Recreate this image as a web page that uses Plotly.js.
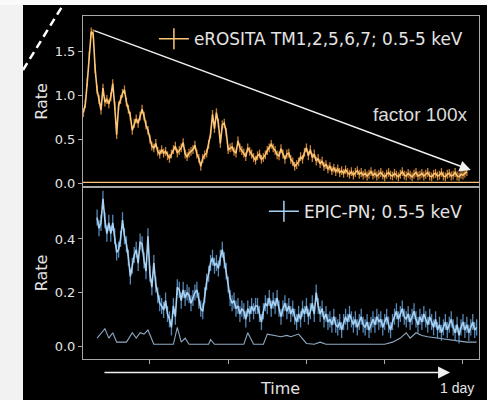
<!DOCTYPE html>
<html>
<head>
<meta charset="utf-8">
<script src="https://cdn.plot.ly/plotly-3.0.1.min.js"></script>
<style>
  html, body { margin: 0; padding: 0; background: #000; }
  #wrap { position: relative; width: 487px; height: 400px; overflow: hidden; }
  #chart { position: absolute; left: 0; top: 0; width: 487px; height: 400px; }
  #leftstrip { position: absolute; left: 0; top: 0; width: 23px; height: 400px; background: #f2f2f2; }
  #topstrip { position: absolute; left: 0; top: 0; width: 487px; height: 5px; background: #fafafa; }
</style>
</head>
<body>
<div id="wrap">
  <div id="chart"></div>
  <div id="leftstrip"></div>
  <div id="topstrip"></div>
</div>
<script>
// Time in ks (ticks every 20 ks)
const time_erosita = [3,3.5,4,4.5,5,5.5,6,6.5,7,7.5,
  8,8.5,9,9.5,10,10.5,11,11.5,12,12.5,
  13,13.5,14,14.5,15,15.5,16,16.5,17,17.5,
  18,18.5,19,19.5,20,20.5,21,21.5,22,22.5,
  23,23.5,24,24.5,25,25.5,26,26.5,27,27.5,
  28,28.5,29,29.5,30,30.5,31,31.5,32,32.5,
  33,33.5,34,34.5,35,35.5,36,36.5,37,37.5,
  38,38.5,39,39.5,40,40.5,41,41.5,42,42.5,
  43,43.5,44,44.5,45,45.5,46,46.5,47,47.5,
  48,48.5,49,49.5,50,50.5,51,51.5,52,52.5,
  53,53.5,54,54.5,55,55.5,56,56.5,57,57.5,
  58,58.5,59,59.5,60,60.5,61,61.5,62,62.5,
  63,63.5,64,64.5,65,65.5,66,66.5,67,67.5,
  68,68.5,69,69.5,70,70.5,71,71.5,72,72.5,
  73,73.5,74,74.5,75,75.5,76,76.5,77,77.5,
  78,78.5,79,79.5,80,80.5,81,81.5,82,82.5,
  83,83.5,84,84.5,85,85.5,86,86.5,87,87.5,
  88,88.5,89,89.5,90,90.5,91,91.5,92,92.5,
  93,93.5,94,94.5,95,95.5,96,96.5,97,97.5,
  98,98.5,99,99.5,100,100.5,101];
const rate_erosita = [0.80,0.90,1.15,1.45,1.72,1.70,1.30,1.06,0.95,0.83,
  1.08,0.92,0.95,0.90,0.98,1.13,0.88,0.55,0.88,0.95,
  1.02,1.06,0.92,0.84,0.76,0.60,0.68,0.73,0.68,0.76,
  0.84,0.76,0.66,0.60,0.50,0.42,0.40,0.45,0.36,0.33,
  0.38,0.34,0.36,0.31,0.28,0.33,0.38,0.42,0.34,0.37,
  0.40,0.46,0.33,0.30,0.34,0.36,0.38,0.43,0.33,0.28,
  0.19,0.28,0.32,0.34,0.44,0.56,0.78,0.62,0.80,0.68,
  0.45,0.66,0.68,0.58,0.38,0.40,0.41,0.36,0.34,0.48,
  0.40,0.37,0.34,0.30,0.40,0.36,0.33,0.29,0.26,0.31,
  0.33,0.27,0.29,0.32,0.37,0.40,0.44,0.40,0.37,0.32,
  0.31,0.39,0.33,0.27,0.33,0.34,0.27,0.24,0.19,0.21,
  0.24,0.30,0.27,0.35,0.40,0.31,0.38,0.29,0.33,0.25,
  0.28,0.22,0.25,0.19,0.21,0.16,0.19,0.14,0.17,0.13,
  0.16,0.12,0.14,0.11,0.15,0.12,0.10,0.13,0.09,0.12,
  0.14,0.10,0.12,0.09,0.11,0.08,0.10,0.13,0.09,0.11,
  0.08,0.10,0.12,0.09,0.07,0.10,0.12,0.09,0.08,0.11,
  0.09,0.07,0.10,0.13,0.09,0.08,0.11,0.09,0.07,0.10,
  0.12,0.08,0.09,0.11,0.08,0.10,0.12,0.08,0.07,0.10,
  0.11,0.08,0.09,0.12,0.08,0.07,0.10,0.11,0.08,0.09,
  0.12,0.08,0.07,0.10,0.09,0.11,0.13];
const time_erosita_bkg = [2.9, 104.1];
const rate_erosita_bkg = [0.008, 0.008];

const time_epic = [6.5,7,7.5,8,8.5,9,9.5,10,10.5,11,
  11.5,12,12.5,13,13.5,14,14.5,15,15.5,16,
  16.5,17,17.5,18,18.5,19,19.5,20,20.5,21,
  21.5,22,22.5,23,23.5,24,24.5,25,25.5,26,
  26.5,27,27.5,28,28.5,29,29.5,30,30.5,31,
  31.5,32,32.5,33,33.5,34,34.5,35,35.5,36,
  36.5,37,37.5,38,38.5,39,39.5,40,40.5,41,
  41.5,42,42.5,43,43.5,44,44.5,45,45.5,46,
  46.5,47,47.5,48,48.5,49,49.5,50,50.5,51,
  51.5,52,52.5,53,53.5,54,54.5,55,55.5,56,
  56.5,57,57.5,58,58.5,59,59.5,60,60.5,61,
  61.5,62,62.5,63,63.5,64,64.5,65,65.5,66,
  66.5,67,67.5,68,68.5,69,69.5,70,70.5,71,
  71.5,72,72.5,73,73.5,74,74.5,75,75.5,76,
  76.5,77,77.5,78,78.5,79,79.5,80,80.5,81,
  81.5,82,82.5,83,83.5,84,84.5,85,85.5,86,
  86.5,87,87.5,88,88.5,89,89.5,90,90.5,91,
  91.5,92,92.5,93,93.5,94,94.5,95,95.5,96,
  96.5,97,97.5,98,98.5,99,99.5,100,100.5,101,
  101.5,102,102.5,103,103.5];
const rate_epic = [0.48,0.44,0.46,0.55,0.47,0.42,0.46,0.42,0.46,0.41,
  0.35,0.36,0.40,0.47,0.41,0.38,0.33,0.26,0.30,0.34,
  0.36,0.31,0.39,0.38,0.32,0.28,0.41,0.27,0.22,0.31,
  0.23,0.19,0.16,0.15,0.135,0.17,0.12,0.10,0.07,0.15,
  0.11,0.22,0.21,0.17,0.21,0.18,0.20,0.19,0.16,0.18,
  0.20,0.21,0.17,0.14,0.13,0.19,0.24,0.27,0.31,0.33,
  0.30,0.31,0.29,0.33,0.36,0.32,0.28,0.23,0.18,0.16,
  0.17,0.14,0.15,0.12,0.14,0.13,0.10,0.14,0.12,0.15,
  0.13,0.15,0.15,0.12,0.09,0.13,0.16,0.15,0.18,0.14,
  0.17,0.15,0.18,0.14,0.11,0.14,0.16,0.13,0.15,0.12,
  0.14,0.11,0.09,0.12,0.10,0.14,0.12,0.15,0.11,0.13,
  0.16,0.12,0.20,0.15,0.12,0.14,0.10,0.12,0.09,0.10,
  0.08,0.11,0.08,0.07,0.09,0.06,0.09,0.11,0.09,0.12,
  0.10,0.08,0.10,0.07,0.09,0.11,0.08,0.07,0.09,0.06,
  0.08,0.10,0.08,0.11,0.09,0.10,0.07,0.09,0.11,0.08,
  0.06,0.09,0.11,0.13,0.10,0.12,0.14,0.11,0.10,0.12,
  0.09,0.11,0.13,0.10,0.08,0.11,0.09,0.12,0.10,0.08,
  0.11,0.09,0.07,0.10,0.06,0.08,0.05,0.07,0.09,0.06,
  0.08,0.10,0.07,0.05,0.08,0.04,0.07,0.09,0.06,0.08,
  0.05,0.07,0.09,0.06,0.07];

const time_epic_bkg = [6.5,8.5,9.5,10.5,11.5,14,15.5,16.5,17.5,18.5,19.5,21,26,27,28,29,30,35,35.5,36.5,
  44,45,46.5,49,50,52,53.5,55,56,58,60,62,63.5,65,80,82,84,85.5,86.5,88,89.5,91,93.5,96,98.5,101,103.5];
const rate_epic_bkg = [0.03,0.065,0.03,0.05,0.015,0.015,0.05,0.03,0.05,0.045,0.06,0.007,0.007,0.07,0.015,0.03,0.007,0.007,0.025,0.007,
  0.007,0.05,0.007,0.007,0.045,0.04,0.035,0.04,0.035,0.045,0.01,0.007,0.015,0.007,0.007,0.015,0.03,0.05,0.03,0.05,0.04,0.035,0.03,0.025,0.02,0.015,0.015];

const yticks_top = [0, 0.5, 1.0, 1.5];
const yticklabels_top = ['0.0', '0.5', '1.0', '1.5'];
const yticks_bot = [0, 0.2, 0.4];
const yticklabels_bot = ['0.0', '0.2', '0.4'];
const xticks = [20, 40, 60, 80, 100];

const label_erosita = 'eROSITA TM1,2,5,6,7; 0.5-5 keV';
const label_epic = 'EPIC-PN; 0.5-5 keV';

const ORANGE = '#fcc676';
const ORANGE_ERR = 'rgba(235,150,60,0.85)';
const BLUE = '#a8d2f3';
const BLUE_ERR = 'rgba(100,160,215,0.85)';
const SPINE = '#a9a9a9';
const TXT = '#e4e4e4';
const FONT = 'DejaVu Sans, sans-serif';

const traces = [
  { x: time_erosita_bkg, y: rate_erosita_bkg, xaxis: 'x', yaxis: 'y', mode: 'lines',
    line: { color: ORANGE, width: 1.3 }, showlegend: false, hoverinfo: 'skip' },
  { x: time_erosita, y: rate_erosita, xaxis: 'x', yaxis: 'y', mode: 'lines',
    line: { color: ORANGE, width: 1.6 },
    error_y: { type: 'constant', value: 0.05, color: ORANGE_ERR, thickness: 1.3, width: 0 },
    showlegend: false },
  { x: [null], y: [null], xaxis: 'x', yaxis: 'y', mode: 'lines+markers', name: label_erosita,
    line: { color: ORANGE, width: 1.5 },
    marker: { symbol: 'line-ns-open', size: 15, line: { color: ORANGE, width: 1.5 } },
    legend: 'legend' },
  { x: time_epic_bkg, y: rate_epic_bkg, xaxis: 'x2', yaxis: 'y2', mode: 'lines',
    line: { color: '#8fa9c2', width: 1.1 }, showlegend: false },
  { x: time_epic, y: rate_epic, xaxis: 'x2', yaxis: 'y2', mode: 'lines',
    line: { color: BLUE, width: 1.6 },
    error_y: { type: 'constant', value: 0.03, color: BLUE_ERR, thickness: 1.3, width: 0 },
    showlegend: false },
  { x: [null], y: [null], xaxis: 'x2', yaxis: 'y2', mode: 'lines+markers', name: label_epic,
    line: { color: BLUE, width: 1.5 },
    marker: { symbol: 'line-ns-open', size: 15, line: { color: BLUE, width: 1.5 } },
    legend: 'legend2' }
];

const axisCommon = {
  showline: true, mirror: true, linecolor: SPINE, linewidth: 1,
  showgrid: false, zeroline: false, tickcolor: SPINE, ticklen: 4, tickwidth: 1,
  tickfont: { family: FONT, size: 13, color: TXT }
};
const DOM = 0.5015;

const layout = {
  width: 487, height: 400,
  paper_bgcolor: '#000', plot_bgcolor: '#000',
  margin: { l: 83, r: 8, t: 16, b: 41 },
  font: { family: FONT, color: TXT },
  xaxis: Object.assign({}, axisCommon, { domain: [0, 1], anchor: 'y', range: [2.9, 104.1],
    tickvals: xticks, ticks: '', showticklabels: false }),
  yaxis: Object.assign({}, axisCommon, { domain: [DOM, 1], anchor: 'x', range: [-0.045, 1.9],
    tickvals: yticks_top, ticktext: yticklabels_top, ticks: 'outside',
    title: { text: 'Rate', font: { family: FONT, size: 16, color: TXT }, standoff: 3 } }),
  xaxis2: Object.assign({}, axisCommon, { domain: [0, 1], anchor: 'y2', range: [2.9, 104.1], matches: 'x',
    tickvals: xticks, ticks: 'outside', showticklabels: false }),
  yaxis2: Object.assign({}, axisCommon, { domain: [0, DOM], anchor: 'x2', range: [-0.048, 0.594],
    tickvals: yticks_bot, ticktext: yticklabels_bot, ticks: 'outside',
    title: { text: 'Rate', font: { family: FONT, size: 16, color: TXT }, standoff: 3 } }),
  legend: { x: 0.972, xanchor: 'right', y: 0.985, yanchor: 'top', bgcolor: 'rgba(0,0,0,0)',
    font: { family: FONT, size: 16.9, color: TXT } },
  legend2: { x: 0.972, xanchor: 'right', y: 0.482, yanchor: 'top', bgcolor: 'rgba(0,0,0,0)',
    font: { family: FONT, size: 16.9, color: TXT } },
  annotations: [
    { xref: 'x', yref: 'y', axref: 'x', ayref: 'y', x: 102.0, y: 0.148, ax: 5.4, ay: 1.74,
      showarrow: true, arrowhead: 2, arrowsize: 1.6, arrowwidth: 1.4, arrowcolor: '#f0f0f0', text: '' },
    { xref: 'paper', yref: 'paper', x: 0.975, y: 0.712, xanchor: 'right', yanchor: 'middle', showarrow: false,
      text: 'factor 100x', font: { family: 'Liberation Sans, Arial, sans-serif', size: 19, color: '#dcdcdc' } },
    { xref: 'x2', yref: 'paper', axref: 'x2', ayref: 'pixel', x: 96.7, y: -0.039, ax: 8.0, ay: 0,
      showarrow: true, arrowhead: 2, arrowsize: 1.6, arrowwidth: 1.5, arrowcolor: '#f0f0f0', text: '' },
    { xref: 'paper', yref: 'paper', x: 0.497, y: -0.087, xanchor: 'center', yanchor: 'middle', showarrow: false,
      text: 'Time', font: { family: FONT, size: 16, color: TXT } },
    { xref: 'paper', yref: 'paper', x: 0.993, y: -0.085, xanchor: 'right', yanchor: 'middle', showarrow: false,
      text: '1 day', font: { family: 'Liberation Sans, Arial, sans-serif', size: 14, color: TXT } }
  ],
  shapes: [
    { type: 'line', xref: 'paper', yref: 'paper', x0: -0.1515, y0: 0.8426, x1: -0.0505, y1: 1.032,
      line: { color: '#ffffff', width: 2.5, dash: '8px,5px' } }
  ]
};

Plotly.newPlot('chart', traces, layout, { displayModeBar: false, staticPlot: true });
</script>
</body>
</html>
